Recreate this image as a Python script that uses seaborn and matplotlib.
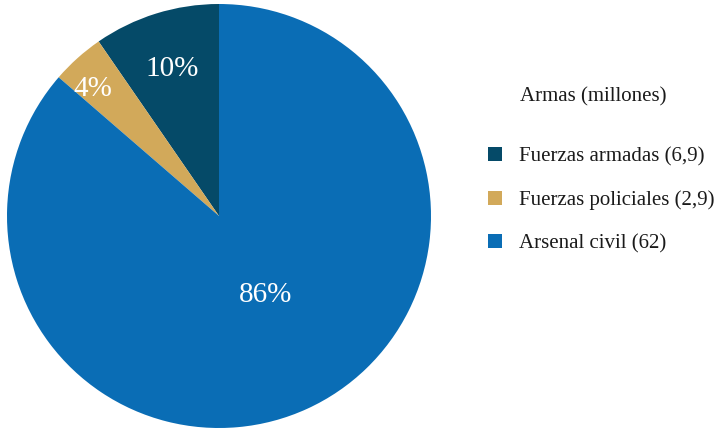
import matplotlib
matplotlib.use("Agg")
import matplotlib.pyplot as plt
import numpy as np
import seaborn as sns

categories = ["Fuerzas armadas", "Fuerzas policiales", "Arsenal civil"]
values = [6.9, 2.9, 62]
colors = ["#054A68", "#D2A95A", "#0A6DB5"]
legend_title = "Armas (millones)"

sns.set_theme(style="white")
plt.rcParams["font.family"] = ["Liberation Serif", "DejaVu Serif"]

W, H = 717, 429
fig = plt.figure(figsize=(W / 100, H / 100), dpi=100)

# square axes holding the pie
cx, cy, r = 219, 216, 212
ax = fig.add_axes([(cx - r) / W, (H - cy - r) / H, 2 * r / W, 2 * r / H])
wedges, texts, autotexts = ax.pie(
    values,
    colors=colors,
    startangle=90,
    counterclock=True,
    autopct=lambda p: f"{p:.0f}%",
    pctdistance=0.7,
    wedgeprops=dict(linewidth=0),
    textprops=dict(color="white", fontsize=21),
)
ax.set_xlim(-1, 1)
ax.set_ylim(-1, 1)
ax.set_aspect("equal")
ax.axis("off")

# radial placement of each percentage label
label_dist = [0.73, 0.843, 0.433]
label_rot = [0.4, 2.9, 6.2]
for w, t, d, rot in zip(wedges, autotexts, label_dist, label_rot):
    ang = np.deg2rad((w.theta1 + w.theta2) / 2 + rot)
    t.set_position((d * np.cos(ang), d * np.sin(ang)))

labels = [f"{c} ({v:g})".replace(".", ",") for c, v in zip(categories, values)]
fig.text(520 / W, 1 - 97 / H, legend_title, fontsize=15, ha="left", va="center", color="#1a1a1a")
leg = fig.legend(
    wedges, labels,
    loc="upper left",
    bbox_to_anchor=(488 / W, 1 - 147 / H),
    frameon=False,
    borderpad=0,
    borderaxespad=0,
    fontsize=15,
    handlelength=0.67,
    handleheight=0.67,
    handletextpad=0.82,
    labelspacing=1.15,
)
for t in leg.get_texts():
    t.set_color("#1a1a1a")

fig.savefig("out.png", dpi=100)
